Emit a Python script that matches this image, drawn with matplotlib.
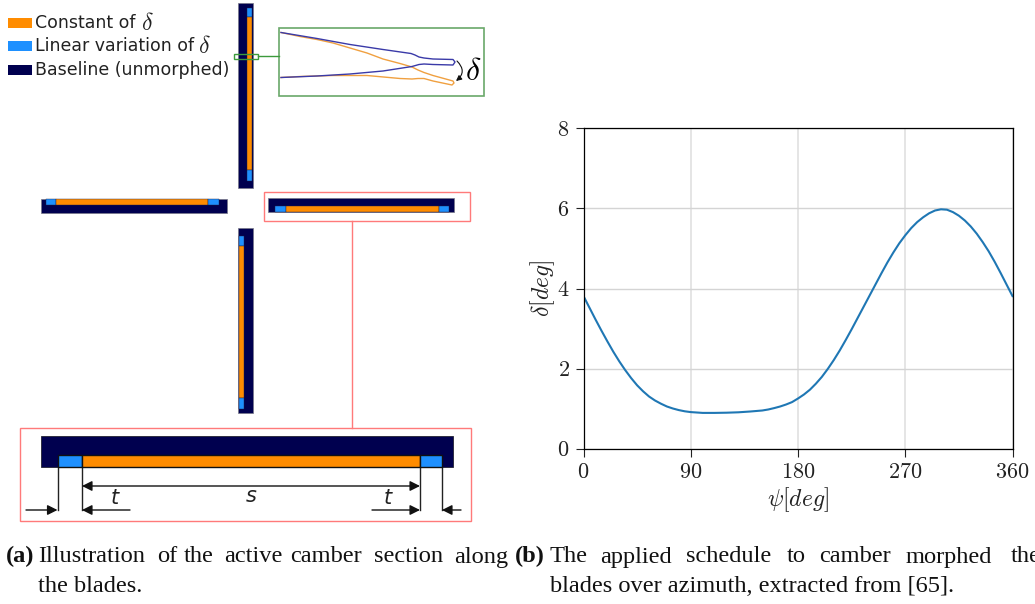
import matplotlib
matplotlib.use("Agg")
import matplotlib.pyplot as plt
from matplotlib.patches import Rectangle, FancyArrowPatch

plt.rcParams['mathtext.fontset'] = 'cm'

W, H = 1035, 604

# schedule
psi = [0, 5, 10, 15, 20, 25, 30, 35, 40, 45, 50, 55, 60, 65, 70, 75, 80, 85, 90, 95, 100, 105, 110,
       120, 130, 140, 150, 155, 160, 165, 170, 175, 180, 185, 190, 195, 200, 205, 210, 215, 220, 225,
       230, 235, 240, 245, 250, 255, 260, 265, 270, 275, 280, 285, 290, 295, 300, 305, 310, 315, 320,
       325, 330, 335, 340, 345, 350, 355, 360]
delta = [3.81, 3.52, 3.23, 2.95, 2.68, 2.42, 2.18, 1.96, 1.76, 1.58, 1.43, 1.30, 1.20, 1.12, 1.05, 1.00,
         0.96, 0.93, 0.91, 0.90, 0.89, 0.89, 0.89, 0.895, 0.905, 0.925, 0.95, 0.975, 1.01, 1.05, 1.10, 1.16,
         1.25, 1.35, 1.47, 1.62, 1.79, 1.99, 2.21, 2.45, 2.71, 2.98, 3.26, 3.54, 3.82, 4.10, 4.38, 4.65,
         4.90, 5.13, 5.33, 5.51, 5.66, 5.78, 5.88, 5.95, 5.98, 5.97, 5.91, 5.82, 5.70, 5.55, 5.37, 5.16,
         4.93, 4.67, 4.39, 4.10, 3.81]
psi_ticks = [0, 90, 180, 270, 360]
delta_ticks = [0, 2, 4, 6, 8]

legend_labels = ["Constant of", "Linear variation of", "Baseline (unmorphed)"]

# sketch colours
navy = "#00004f"
blue = "#1e90ff"
orange = "#ff8c00"
red = "#ff7a7a"
green = "#6aa86a"

# blades: outer box, then the blue/orange/blue parts (x0, y0, x1, y1 in pixels)
blades = [
    ((238, 3, 252.5, 188), [((247, 8, 252, 17), blue), ((247, 17, 252, 170), orange), ((247, 170, 252, 181), blue)]),
    ((41, 199, 227, 213), [((46, 199, 56, 204.5), blue), ((56, 199, 208, 204.5), orange), ((208, 199, 219, 204.5), blue)]),
    ((268, 198, 454, 212), [((275, 206, 286, 212), blue), ((286, 206, 439, 212), orange), ((439, 206, 449, 212), blue)]),
    ((238, 228, 252.5, 413), [((238.5, 236, 244, 246), blue), ((238.5, 246, 244, 398), orange), ((238.5, 398, 244, 409), blue)]),
]
big_blade = ((41, 436, 452.5, 467), [((57.5, 455, 82, 467), blue), ((82, 455, 420, 467), orange), ((420, 455, 442, 467), blue)])

# airfoil outlines in the green inset
foil_blue_x = [281, 317, 350, 383, 411, 415, 419, 424, 433, 453, 455, 453, 433, 424, 419, 412, 383, 350, 317, 281]
foil_blue_y = [32.5, 38.5, 44.5, 49.5, 53.5, 55, 57, 58, 59, 59.5, 62, 65, 64.5, 64, 64.5, 66.5, 71, 74, 76, 77.5]
foil_orange_x = [281, 300, 317, 333, 350, 367, 383, 400, 412, 418, 424, 433, 453, 454, 452, 433, 424, 418, 412, 400, 367, 333, 300, 281]
foil_orange_y = [32.5, 36.5, 39.5, 43, 48, 53, 59, 63.5, 67, 70, 72.5, 75.5, 81, 83, 85, 81, 78.5, 78.5, 79, 78.5, 75.5, 75.5, 76.5, 77.5]

caption_a_words = ["Illustration", "of", "the", "active", "camber", "section", "along"]
caption_a_x = [38, 157, 184, 224, 290, 374, 454]
caption_b_words = ["The", "applied", "schedule", "to", "camber", "morphed", "the"]
caption_b_x = [550, 600, 686, 787, 819, 906, 1011]

fig = plt.figure(figsize=(W / 100, H / 100), dpi=100)

# whole figure axes in pixel coordinates for the sketch
bg = fig.add_axes([0, 0, 1, 1])
bg.set_xlim(0, W)
bg.set_ylim(H, 0)
bg.axis("off")


def box(x0, y0, x1, y1, fc="none", ec="none", lw=0.8, z=2):
    bg.add_patch(Rectangle((x0, y0), x1 - x0, y1 - y0, fc=fc, ec=ec, lw=lw, zorder=z))


def arrow(x0, y0, x1, y1, style="-|>", z=5):
    bg.add_patch(FancyArrowPatch((x0, y0), (x1, y1), arrowstyle=style, mutation_scale=15,
                                 color="#111111", lw=1.0, shrinkA=0, shrinkB=0, zorder=z))


# legend
for y, c, lab in zip([23, 46, 70], [orange, blue, navy], legend_labels):
    box(8, y - 5, 32, y + 5, fc=c)
    bg.text(35, y, lab, fontsize=12.5, va="center", color="#222222")
bg.text(141, 23, r"$\delta$", fontsize=17, va="center", color="#222222")
bg.text(198, 46, r"$\delta$", fontsize=17, va="center", color="#222222")

for outer, parts in blades:
    box(*outer, fc=navy, ec="#777788", lw=0.5)
    for p, c in parts:
        box(*p, fc=c, ec="#222244", lw=0.3, z=3)
box(*big_blade[0], fc=navy, ec="#222233", lw=0.6)
for p, c in big_blade[1]:
    box(*p, fc=c, ec="#111111", lw=1.0, z=3)

# frames
box(264, 191.5, 470, 221, ec=red, lw=1.0)
box(20, 427.5, 471, 521, ec=red, lw=1.0)
bg.plot([352, 352], [221, 427.5], color=red, lw=1.0)
box(279, 27.5, 484, 96, ec=green, lw=1.2)
box(233.5, 54, 258, 58.5, ec="#3c9a3c", lw=1.0, z=4)
bg.plot([258, 279], [56, 56], color="#3c9a3c", lw=1.0)

bg.plot(foil_orange_x, foil_orange_y, color="#f0a040", lw=1.0)
bg.plot(foil_blue_x, foil_blue_y, color="#3a3aa8", lw=1.0)
bg.add_patch(FancyArrowPatch((457, 61), (456, 81), connectionstyle="arc3,rad=-0.55", arrowstyle="-|>",
                             mutation_scale=8, color="#111111", lw=0.8, shrinkA=0, shrinkB=0))
bg.text(473, 72, r"$\delta$", fontsize=23, ha="center", va="center")

# dimension lines
for x in [57.5, 82, 420, 442]:
    bg.plot([x, x], [467, 510], color="#222222", lw=1.0)
arrow(82, 486, 420, 486, "<|-|>")
arrow(26, 510, 57.5, 510)
arrow(130, 510, 82, 510)
arrow(372, 510, 420, 510)
arrow(461, 510, 442, 510)
bg.text(251, 496, "s", fontsize=15, style="italic", ha="center", va="center", color="#222222")
bg.text(115, 498, "t", fontsize=15, style="italic", ha="center", va="center", color="#222222")
bg.text(388, 498, "t", fontsize=15, style="italic", ha="center", va="center", color="#222222")

# captions
cap = dict(family="Liberation Serif", fontsize=17.6, va="baseline", color="#111111")
bg.text(6, 562.5, "(a)", fontweight="bold", **cap)
for w, x in zip(caption_a_words, caption_a_x):
    bg.text(x, 562.5, w, **cap)
bg.text(38, 591.5, "the blades.", **cap)
bg.text(515, 562.5, "(b)", fontweight="bold", **cap)
for w, x in zip(caption_b_words, caption_b_x):
    bg.text(x, 562.5, w, **cap)
bg.text(550, 591.5, "blades over azimuth, extracted from [65].", **cap)

# panel (b)
ax = fig.add_axes([583.5 / W, 1 - 448.5 / H, (1012.5 - 583.5) / W, (448.5 - 128.5) / H])
ax.plot(psi, delta, color="#1f77b4", lw=1.5)
ax.set_xlim(0, 360)
ax.set_ylim(0, 8)
ax.set_xticks(psi_ticks)
ax.set_xticklabels([f"${v}$" for v in psi_ticks])
ax.set_yticks(delta_ticks)
ax.set_yticklabels([f"${v}$" for v in delta_ticks])
ax.tick_params(labelsize=16, length=6, width=0.8, direction="out", colors="#222222", pad=4)
ax.grid(axis="x", color="#e0e0e0", lw=1.2)
ax.grid(axis="y", color="#d4d4d4", lw=1.0)
ax.set_axisbelow(True)
ax.set_xlabel(r"$\psi[deg]$", fontsize=17, color="#222222", labelpad=2)
ax.set_ylabel(r"$\delta[deg]$", fontsize=17, color="#222222", labelpad=0)
for s in ax.spines.values():
    s.set_linewidth(0.9)

fig.savefig("out.png", dpi=100)
